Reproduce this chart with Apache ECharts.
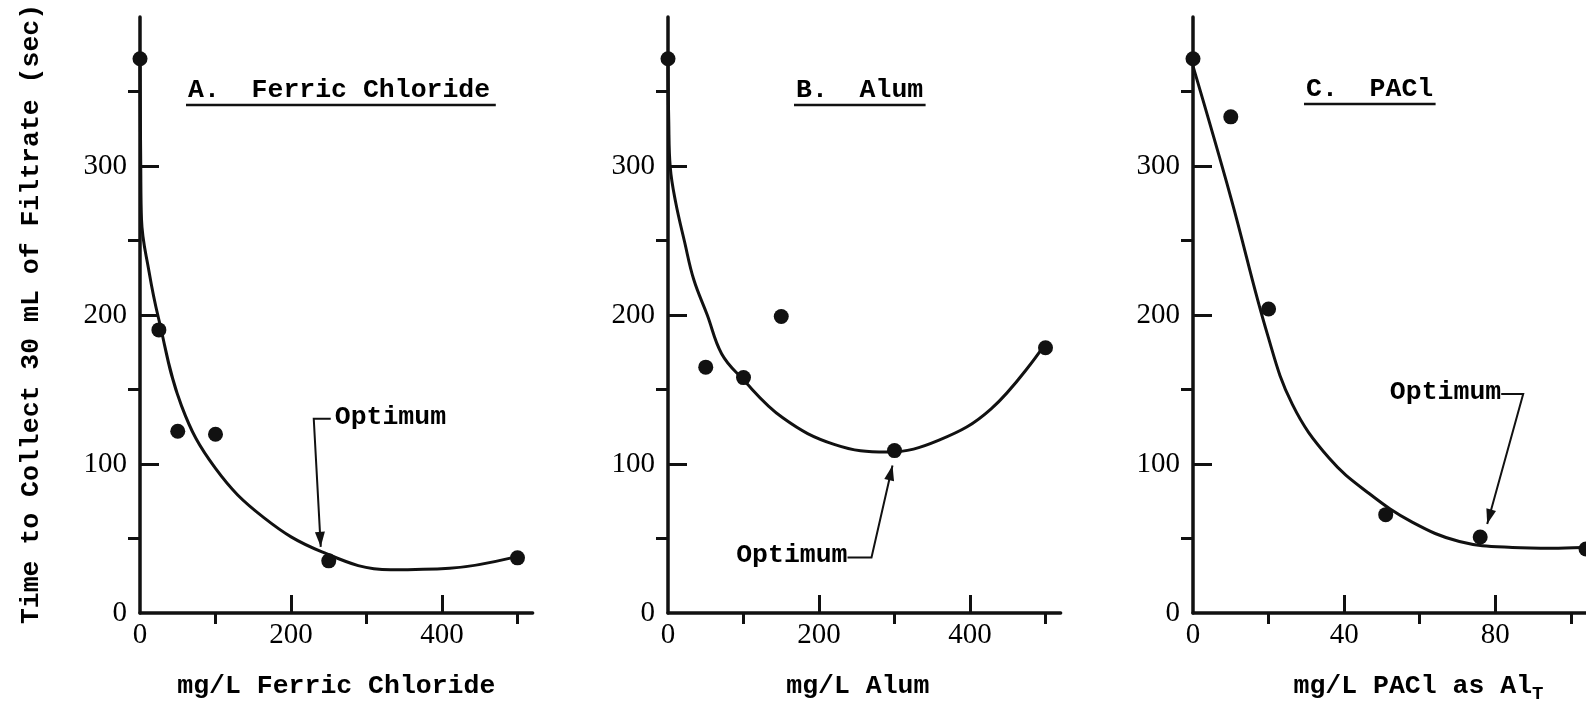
<!DOCTYPE html>
<html>
<head>
<meta charset="utf-8">
<script src="https://cdn.jsdelivr.net/npm/echarts@6/dist/echarts.min.js"></script>
<style>
  html, body { margin: 0; padding: 0; background: #fff; }
  #chart { width: 1586px; height: 707px; }
</style>
</head>
<body>
<div id="chart"></div>
<script>
// measured points (dose mg/L, time s)
const ferricDose = [0, 25, 50, 100, 250, 500]
const ferricTime = [372, 190, 122, 120, 35, 37]
// hand-drawn fit curve
const ferricFitDose = [0, 1, 2, 12, 24, 55, 100, 164, 241, 332, 410, 492]
const ferricFitTime = [372, 300, 264, 229, 199, 139, 97, 64, 41, 29, 30, 37]

const alumDose = [0, 50, 100, 150, 300, 500]
const alumTime = [372, 165, 158, 199, 109, 178]
const alumFitDose = [0, 1, 3, 10, 22, 34, 52, 71, 97, 152, 221, 290, 359, 428, 496]
const alumFitTime = [372, 330, 299, 276, 249, 224, 200, 174, 158, 131, 113, 108, 116, 137, 178]

const paclDose = [0, 10, 20, 51, 76, 104]
const paclTime = [372, 333, 204, 66, 51, 43]
const paclFitDose = [0, 10, 19.7, 26.3, 36, 46.7, 58, 70.5, 84.5, 95, 103]
const paclFitTime = [367, 279, 187, 140, 104, 80, 61, 48, 44, 43.5, 44]

const yMajor = [100, 200, 300]
const yMinor = [50, 150, 250, 350]
const yLabels = [0, 100, 200, 300]
const mgMajor = [200, 400]
const mgMinor = [100, 300, 500]
const mgLabels = [0, 200, 400]
const paclMajor = [40, 80]
const paclMinor = [20, 60, 100]
const paclLabels = [0, 40, 80]

const ink = '#111'
const mono = '"Liberation Mono", "DejaVu Sans Mono", monospace'
const serif = '"Liberation Serif", "DejaVu Serif", serif'

const pairs = (xs, ys) => xs.map((x, i) => [x, ys[i]])

function xAxis(gridIndex, max, ticks, labels, name, pad, gap) {
  return {
    type: 'value', gridIndex, min: 0, max,
    name, nameLocation: 'middle', nameGap: gap,
    nameTextStyle: { fontFamily: mono, fontWeight: 'bold', fontSize: 26.5, color: '#000', padding: pad, rich: {
      a: { fontFamily: mono, fontWeight: 'bold', fontSize: 26.5, color: '#000' },
      s: { fontFamily: mono, fontWeight: 'bold', fontSize: 19, color: '#000', padding: [16, 0, 0, 0] }
    } },
    axisLine: { show: true, onZero: false, lineStyle: { color: ink, width: 3.5 } },
    axisTick: { show: true, inside: true, length: 18, customValues: ticks, lineStyle: { color: ink, width: 3 } },
    axisLabel: { customValues: labels, margin: 8, fontFamily: serif, fontSize: 29, color: '#000' },
    splitLine: { show: false }
  }
}
function yAxis(gridIndex) {
  return {
    type: 'value', gridIndex, min: 0, max: 400,
    axisLine: { show: true, onZero: false, lineStyle: { color: ink, width: 3.5 } },
    axisTick: { show: true, inside: true, length: 19, customValues: yMajor, lineStyle: { color: ink, width: 3 } },
    axisLabel: { customValues: yLabels, margin: 13, fontFamily: serif, fontSize: 29, color: '#000' },
    splitLine: { show: false }
  }
}
// second axis on the same grid, only for the short in-between ticks
function minorAxis(gridIndex, max, ticks, length) {
  return {
    type: 'value', gridIndex, min: 0, max,
    axisLine: { show: false },
    axisTick: { show: true, inside: true, length, customValues: ticks, lineStyle: { color: ink, width: 3 } },
    axisLabel: { show: false },
    splitLine: { show: false }
  }
}

function dots(i, xs, ys) {
  return { type: 'scatter', xAxisIndex: i, yAxisIndex: i, data: pairs(xs, ys), symbolSize: 15, itemStyle: { color: ink, opacity: 1 }, z: 3 }
}
function fit(i, xs, ys) {
  return { type: 'line', xAxisIndex: i, yAxisIndex: i, data: pairs(xs, ys), smooth: 0.4, showSymbol: false, lineStyle: { color: ink, width: 3 }, z: 2 }
}

const chart = echarts.init(document.getElementById('chart'), null, { renderer: 'canvas' })
chart.setOption({
  animation: false,
  backgroundColor: '#fff',
  grid: [
    { left: 140, top: 17, width: 392.6, height: 596, outerBoundsMode: 'none' },
    { left: 668, top: 17, width: 392.6, height: 596, outerBoundsMode: 'none' },
    { left: 1193, top: 17, width: 393, height: 596, outerBoundsMode: 'none' }
  ],
  xAxis: [
    xAxis(0, 520, mgMajor, mgLabels, 'mg/L Ferric Chloride', [0, 0, 0, 0], 60),
    xAxis(1, 520, mgMajor, mgLabels, 'mg/L Alum', [0, 13, 0, 0], 60),
    xAxis(2, 104, paclMajor, paclLabels, '{a|mg/L PACl as Al}{s|T}', [0, 0, 0, 58], 56),
    minorAxis(0, 520, mgMinor, 11),
    minorAxis(1, 520, mgMinor, 11),
    minorAxis(2, 104, paclMinor, 11)
  ],
  yAxis: [
    yAxis(0), yAxis(1), yAxis(2),
    minorAxis(0, 400, yMinor, 12),
    minorAxis(1, 400, yMinor, 12),
    minorAxis(2, 400, yMinor, 12)
  ],
  series: [
    fit(0, ferricFitDose, ferricFitTime), dots(0, ferricDose, ferricTime),
    fit(1, alumFitDose, alumFitTime), dots(1, alumDose, alumTime),
    fit(2, paclFitDose, paclFitTime), dots(2, paclDose, paclTime)
  ]
})

const font = 'bold 26.5px ' + mono
const graphics = [{
  type: 'text', x: 31, y: 314, rotation: Math.PI / 2,
  style: { text: 'Time to Collect 30 mL of Filtrate (sec)', font, fill: '#000', textAlign: 'center', textVerticalAlign: 'middle' }
}]

// panel titles, underlined
const titles = [
  { text: 'A.  Ferric Chloride', x: 188, y: 90 },
  { text: 'B.  Alum', x: 796, y: 90 },
  { text: 'C.  PACl', x: 1306, y: 89 }
]
titles.forEach((t) => {
  const w = t.text.length * 16.2
  graphics.push({ type: 'text', x: t.x, y: t.y, style: { text: t.text, font, fill: '#000', textVerticalAlign: 'middle' } })
  graphics.push({ type: 'line', shape: { x1: t.x - 2, y1: t.y + 15, x2: t.x + w, y2: t.y + 15 }, style: { stroke: ink, lineWidth: 2.5 } })
})

// "Optimum" call-outs pointing at the optimum dose of each coagulant
function arrowHead(from, tip) {
  const dx = tip[0] - from[0], dy = tip[1] - from[1]
  const len = Math.hypot(dx, dy)
  const ux = dx / len, uy = dy / len
  const bx = tip[0] - ux * 15, by = tip[1] - uy * 15
  return { type: 'polygon', shape: { points: [tip, [bx - uy * 5, by + ux * 5], [bx + uy * 5, by - ux * 5]] }, style: { fill: ink } }
}
function callout(gridIndex, value, tipOff, cornerOff, stub, textSide) {
  const p = chart.convertToPixel({ gridIndex }, value)
  const tip = [p[0] + tipOff[0], p[1] + tipOff[1]]
  const corner = [tip[0] + cornerOff[0], tip[1] + cornerOff[1]]
  const end = [corner[0] + stub, corner[1]]
  graphics.push({ type: 'polyline', shape: { points: [end, corner, tip] }, style: { stroke: ink, lineWidth: 2, fill: null } })
  graphics.push(arrowHead(corner, tip))
  graphics.push({
    type: 'text', x: end[0] + (textSide === 'left' ? 4 : 0), y: corner[1] - 2,
    style: { text: 'Optimum', font, fill: '#000', textVerticalAlign: 'middle', textAlign: textSide }
  })
}
callout(0, [ferricDose[4], ferricTime[4]], [-8, -14], [-7, -128], 17, 'left')
callout(1, [alumDose[4], alumTime[4]], [-2, 15], [-21, 92], -24, 'right')
callout(2, [paclDose[4], paclTime[4]], [7, -13], [36, -130], -22, 'right')

chart.setOption({ graphic: graphics })
window.addEventListener('resize', () => chart.resize())
</script>
</body>
</html>
